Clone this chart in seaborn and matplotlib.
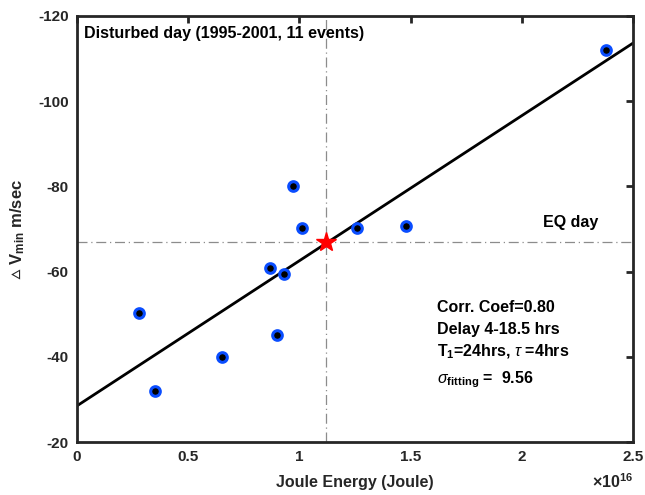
import matplotlib
matplotlib.use("Agg")
import matplotlib.pyplot as plt
import seaborn as sns
import pandas as pd
import numpy as np

# Data (x in units of 1e16 Joule, y in m/sec)
joule_energy = [0.28, 0.35, 0.65, 0.87, 0.93, 0.90, 0.97, 1.01, 1.26, 1.48, 2.38]
delta_vmin = [-50.2, -32.0, -40.0, -60.8, -59.5, -45.0, -80.0, -70.2, -70.3, -70.7, -112.0]
fit_x = [0.0, 2.5]
fit_y = [-28.5, -113.6]
eq_x = [1.12]
eq_y = [-67.0]
x_ticks = [0, 0.5, 1, 1.5, 2, 2.5]
x_tick_labels = ["0", "0.5", "1", "1.5", "2", "2.5"]
y_ticks = [-20, -40, -60, -80, -100, -120]
y_tick_labels = ["-20", "-40", "-60", "-80", "-100", "-120"]

sns.set_theme(style="white")
plt.rcParams["font.family"] = ["Liberation Sans", "DejaVu Sans"]
plt.rcParams["mathtext.fontset"] = "custom"
plt.rcParams["mathtext.rm"] = "Liberation Sans:bold"
plt.rcParams["mathtext.it"] = "Liberation Sans:italic"
plt.rcParams["mathtext.bf"] = "Liberation Sans:bold"
plt.rcParams["mathtext.fallback"] = "stixsans"

dark = "#262626"
fs = 11.5
fig = plt.figure(figsize=(6.45, 4.95), dpi=100)
ax = fig.add_axes([0.1194, 0.107, 0.862, 0.861])

df = pd.DataFrame({"x": joule_energy, "y": delta_vmin})
fit = pd.DataFrame({"x": fit_x, "y": fit_y})

# reference lines
ax.axvline(eq_x[0], color="#8c8c8c", lw=0.9, ls=(0, (8, 3, 1, 3)), zorder=1)
ax.axhline(eq_y[0], color="#8c8c8c", lw=0.9, ls=(0, (8, 3, 1, 3)), zorder=1)

sns.lineplot(data=fit, x="x", y="y", ax=ax, color="black", lw=2, zorder=2)
sns.scatterplot(data=df, x="x", y="y", ax=ax, s=48, color="black",
                edgecolor="#0a4dff", linewidth=2.2, zorder=3)
ax.plot(eq_x, eq_y, marker="*", color="red", markersize=15, ls="none", zorder=4)

ax.set_xlim(0, 2.5)
ax.set_ylim(-20, -120)
ax.set_xticks(x_ticks)
ax.set_xticklabels(x_tick_labels)
ax.set_yticks(y_ticks)
ax.set_yticklabels(y_tick_labels)
ax.tick_params(direction="in", length=5, width=2, top=True, right=True,
               labelsize=11, colors=dark, labelcolor=dark, pad=6)
for lab in ax.get_xticklabels() + ax.get_yticklabels():
    lab.set_fontweight("bold")
for sp in ax.spines.values():
    sp.set_linewidth(2)
    sp.set_color(dark)
    sp.set_visible(True)

ax.set_xlabel("Joule Energy (Joule)", fontsize=fs, fontweight="bold", color=dark, labelpad=8)
ax.set_ylabel("$\u25b5$ V$_{\\mathrm{min}}$ m/sec", fontsize=fs + 0.5, fontweight="bold",
              color=dark, labelpad=8)
ax.text(1.0, -0.072, r"$\times$10$^{16}$", transform=ax.transAxes, ha="right", va="top",
        fontsize=fs, fontweight="bold", color=dark)

ax.text(0.012, 0.975, "Disturbed day (1995-2001, 11 events)", transform=ax.transAxes,
        ha="left", va="top", fontsize=fs, fontweight="bold", color="black")
ax.text(0.888, 0.516, "EQ day", transform=ax.transAxes, ha="center", va="center",
        fontsize=fs, fontweight="bold", color="black")

tx = 0.648
ax.text(tx, 0.315, "Corr. Coef=0.80", transform=ax.transAxes, fontsize=fs,
        fontweight="bold", color="black", va="center")
ax.text(tx, 0.263, "Delay 4-18.5 hrs", transform=ax.transAxes, fontsize=fs,
        fontweight="bold", color="black", va="center")
ax.text(tx, 0.212, r"T$_{1}$=24hrs, $\tau$ =4hrs", transform=ax.transAxes, fontsize=fs,
        fontweight="bold", color="black", va="center")
ax.text(tx, 0.146, r"$\sigma$$_{\mathrm{fitting}}$ =  9.56", transform=ax.transAxes, fontsize=fs,
        fontweight="bold", color="black", va="center")

fig.savefig("out.png", dpi=100)
